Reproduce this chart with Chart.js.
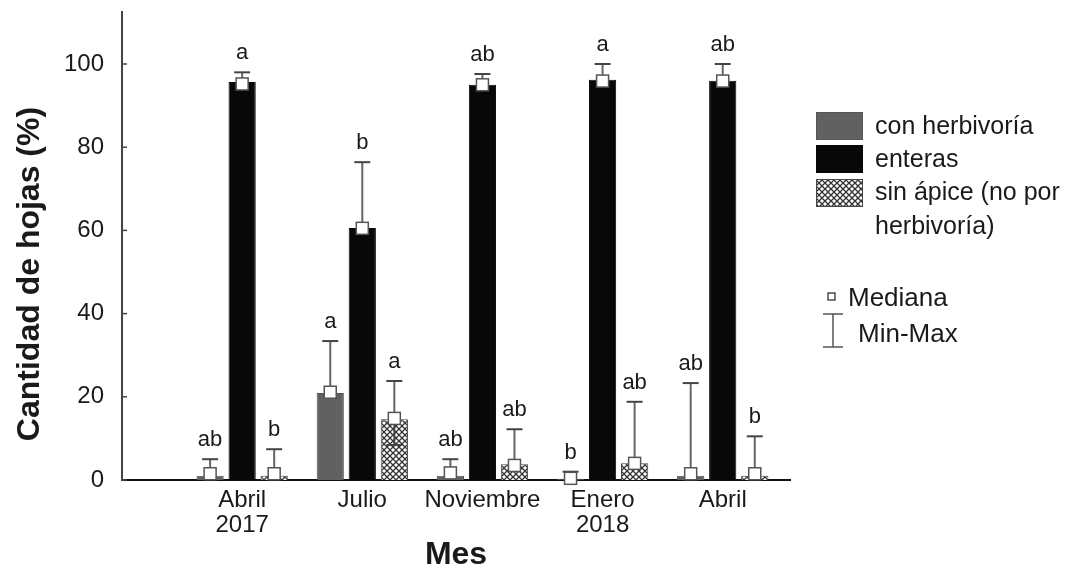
<!DOCTYPE html>
<html>
<head>
<meta charset="utf-8">
<script src="https://cdn.jsdelivr.net/npm/chart.js@4"></script>
<style>
  body { margin: 0; background: #fff; }
</style>
</head>
<body>
<canvas id="myChart" width="1075" height="574"></canvas>
<script>
// datos
const categories = [['Abril', '2017'], 'Julio', 'Noviembre', ['Enero', '2018'], 'Abril'];
const yTicks = [0, 20, 40, 60, 80, 100];

const conHerb   = [1, 20.9, 1, 0.3, 1];
const enteras   = [95.7, 60.6, 95, 96.2, 96];
const sinApice  = [1, 14.6, 3.8, 4, 1];

const medHerb   = [1.5, 21.1, 1.7, 0.4, 1.5];
const medEnt    = [95.2, 60.5, 95, 95.9, 95.9];
const medSin    = [1.5, 14.8, 3.5, 4, 1.5];

const maxHerb   = [5, 33.4, 5, 2, 23.3];
const maxEnt    = [98, 76.4, 97.6, 100, 100];
const maxSin    = [7.4, 23.8, 12.2, 18.8, 10.5];

const minHerb   = [null, null, null, null, null];
const minEnt    = [null, null, null, null, null];
const minSin    = [null, 8.4, null, null, null];

const letHerb   = ['ab', 'a', 'ab', 'b', 'ab'];
const letEnt    = ['a', 'b', 'ab', 'a', 'ab'];
const letSin    = ['b', 'a', 'ab', 'ab', 'b'];

const FONT = "'Liberation Sans', Arial, sans-serif";
const TXT = '#1a1a1a';

// patron cuadriculado para "sin apice"
function makePattern() {
  const c = document.createElement('canvas');
  c.width = 6; c.height = 6;
  const g = c.getContext('2d');
  g.fillStyle = '#fff';
  g.fillRect(0, 0, 6, 6);
  g.strokeStyle = '#333';
  g.lineWidth = 1.3;
  g.beginPath();
  g.moveTo(0, 0); g.lineTo(6, 6);
  g.moveTo(6, 0); g.lineTo(0, 6);
  g.stroke();
  return g.createPattern(c, 'repeat');
}
const hatch = makePattern();

const toXY = arr => arr.map((v, i) => ({x: i + 1, y: v}));

const extras = [
  {med: medHerb, max: maxHerb, min: minHerb, let: letHerb},
  {med: medEnt, max: maxEnt, min: minEnt, let: letEnt},
  {med: medSin, max: maxSin, min: minSin, let: letSin}
];

// bigotes min-max, medianas y letras
const whiskerPlugin = {
  id: 'whiskers',
  afterDatasetsDraw(chart) {
    const ctx = chart.ctx;
    const y = chart.scales.y;
    ctx.save();
    extras.forEach((ex, d) => {
      const meta = chart.getDatasetMeta(d);
      meta.data.forEach((bar, j) => {
        const x = bar.x;
        const yMed = y.getPixelForValue(ex.med[j]);
        const yMax = y.getPixelForValue(ex.max[j]);
        ctx.strokeStyle = '#666';
        ctx.lineWidth = 2;
        ctx.beginPath();
        ctx.moveTo(x, yMed); ctx.lineTo(x, yMax);
        ctx.stroke();
        ctx.strokeStyle = '#444';
        ctx.beginPath();
        ctx.moveTo(x - 8, yMax); ctx.lineTo(x + 8, yMax);
        ctx.stroke();
        if (ex.min[j] !== null) {
          const yMin = y.getPixelForValue(ex.min[j]);
          ctx.strokeStyle = '#444';
          ctx.beginPath();
          ctx.moveTo(x, yMed); ctx.lineTo(x, yMin);
          ctx.moveTo(x - 8, yMin); ctx.lineTo(x + 8, yMin);
          ctx.stroke();
        }
        // mediana
        ctx.fillStyle = '#fff';
        ctx.strokeStyle = '#555';
        ctx.lineWidth = 1.5;
        ctx.fillRect(x - 6, yMed - 6, 12, 12);
        ctx.strokeRect(x - 6, yMed - 6, 12, 12);
        // letra
        ctx.fillStyle = TXT;
        ctx.font = '22px ' + FONT;
        ctx.textAlign = 'center';
        ctx.textBaseline = 'bottom';
        ctx.fillText(ex.let[j], x, yMax - 8);
      });
    });
    ctx.restore();
  },
  afterDraw(chart) {
    const ctx = chart.ctx;
    const y = chart.scales.y;
    const left = chart.chartArea.left;
    ctx.save();
    // marcas del eje y hacia adentro
    ctx.strokeStyle = '#444';
    ctx.lineWidth = 1.5;
    yTicks.forEach(v => {
      const py = y.getPixelForValue(v);
      ctx.beginPath();
      ctx.moveTo(left, py); ctx.lineTo(left + 5, py);
      ctx.stroke();
    });

    // titulo eje y (un poco mas abajo que el centro)
    ctx.save();
    ctx.translate(30, 274);
    ctx.rotate(-Math.PI / 2);
    ctx.fillStyle = TXT;
    ctx.font = 'bold 32px ' + FONT;
    ctx.textAlign = 'center';
    ctx.textBaseline = 'middle';
    ctx.fillText('Cantidad de hojas (%)', 0, 0);
    ctx.restore();

    // leyenda
    ctx.lineWidth = 1;
    ctx.fillStyle = '#616161'; ctx.strokeStyle = '#555';
    ctx.fillRect(816, 112, 47, 28); ctx.strokeRect(816.5, 112.5, 46, 27);
    ctx.fillStyle = '#080808';
    ctx.fillRect(816, 145, 47, 28);
    ctx.fillStyle = hatch; ctx.strokeStyle = '#444';
    ctx.fillRect(816, 179, 47, 28); ctx.strokeRect(816.5, 179.5, 46, 27);

    ctx.fillStyle = TXT;
    ctx.font = '25px ' + FONT;
    ctx.textAlign = 'left';
    ctx.textBaseline = 'middle';
    ctx.fillText('con herbivoría', 875, 127);
    ctx.fillText('enteras', 875, 160);
    ctx.fillText('sin ápice (no por', 875, 193);
    ctx.fillText('herbivoría)', 875, 227);

    ctx.font = '26px ' + FONT;
    ctx.fillStyle = '#fff'; ctx.strokeStyle = '#333'; ctx.lineWidth = 1.3;
    ctx.fillRect(828, 293, 7, 7); ctx.strokeRect(828, 293, 7, 7);
    ctx.fillStyle = TXT;
    ctx.fillText('Mediana', 848, 299);

    ctx.strokeStyle = '#555'; ctx.lineWidth = 1.5;
    ctx.beginPath();
    ctx.moveTo(833, 314); ctx.lineTo(833, 347);
    ctx.moveTo(823, 314); ctx.lineTo(843, 314);
    ctx.moveTo(823, 347); ctx.lineTo(843, 347);
    ctx.stroke();
    ctx.fillText('Min-Max', 858, 335);
    ctx.restore();
  }
};

const data = {
  datasets: [
    {
      label: 'con herbivoría',
      data: toXY(conHerb),
      backgroundColor: '#616161',
      borderColor: '#555',
      borderWidth: 1
    },
    {
      label: 'enteras',
      data: toXY(enteras),
      backgroundColor: '#080808',
      borderColor: '#080808',
      borderWidth: 1
    },
    {
      label: 'sin ápice (no por herbivoría)',
      data: toXY(sinApice),
      backgroundColor: hatch,
      borderColor: '#444',
      borderWidth: 1
    }
  ]
};

const config = {
  type: 'bar',
  data: data,
  options: {
    responsive: false,
    animation: false,
    categoryPercentage: 0.8,
    barPercentage: 0.85,
    layout: { padding: { top: 12, right: 285, bottom: 0, left: 0 } },
    plugins: {
      legend: { display: false },
      tooltip: { enabled: false }
    },
    scales: {
      x: {
        type: 'linear',
        min: 0,
        max: 5.56,
        offset: false,
        afterBuildTicks: s => { s.ticks = categories.map((c, i) => ({ value: i + 1 })); },
        afterFit: s => { s.height = 94; },
        ticks: {
          callback: v => categories[v - 1] || '',
          font: { family: FONT, size: 24, lineHeight: 1.05 },
          color: TXT,
          padding: 0,
          autoSkip: false,
          maxRotation: 0
        },
        grid: { display: false, offset: false },
        border: { color: '#111', width: 2 },
        title: {
          display: true,
          text: 'Mes',
          color: TXT,
          font: { family: FONT, size: 32, weight: 'bold', lineHeight: 1.2 },
          padding: 0
        }
      },
      y: {
        min: 0,
        max: 112.5,
        afterBuildTicks: s => { s.ticks = yTicks.map(v => ({ value: v })); },
        afterFit: s => { s.width = 122; s.paddingTop = 0; },
        ticks: {
          font: { family: FONT, size: 24 },
          color: TXT,
          padding: 10
        },
        grid: { display: false },
        border: { color: '#444', width: 2 }
      }
    }
  },
  plugins: [whiskerPlugin]
};

const myChart = new Chart(
  document.getElementById('myChart'),
  config
);
</script>
</body>
</html>
